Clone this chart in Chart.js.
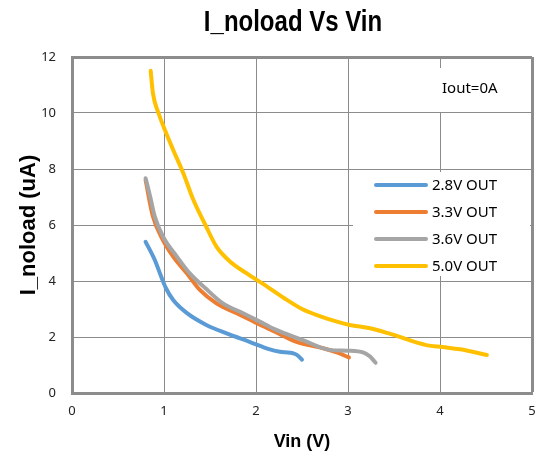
<!DOCTYPE html>
<html>
<head>
<meta charset="utf-8">
<script src="https://cdn.jsdelivr.net/npm/chart.js@4/dist/chart.umd.min.js"></script>
<style>
  html, body { margin: 0; padding: 0; background: #fff; }
  #wrap { width: 537px; height: 457px; }
</style>
</head>
<body>
<div id="wrap"><canvas id="grafico" width="537" height="457"></canvas></div>
<script>
const titulo = 'I_noload Vs Vin';
const tituloX = 'Vin (V)';
const tituloY = 'I_noload (uA)';
const nota = 'Iout=0A';

const series = ['2.8V OUT', '3.3V OUT', '3.6V OUT', '5.0V OUT'];
const colores = ['#5B9BD5', '#ED7D31', '#A5A5A5', '#FFC000'];

const vin28 = [0.80, 0.90, 0.97, 1.02, 1.10, 1.25, 1.46, 1.68, 1.93, 2.15, 2.26, 2.37, 2.44, 2.50];
const i28 = [5.40, 4.75, 4.15, 3.75, 3.32, 2.85, 2.43, 2.13, 1.83, 1.56, 1.47, 1.44, 1.37, 1.19];

const vin33 = [0.80, 0.88, 0.97, 1.10, 1.25, 1.39, 1.57, 1.79, 2.01, 2.20, 2.44, 2.73, 2.88, 3.01];
const i33 = [7.60, 6.30, 5.58, 4.87, 4.27, 3.68, 3.20, 2.85, 2.49, 2.20, 1.83, 1.60, 1.45, 1.27];

const vin36 = [0.80, 0.85, 0.90, 0.99, 1.14, 1.28, 1.45, 1.64, 1.86, 2.04, 2.20, 2.51, 2.80, 2.99, 3.17, 3.24, 3.30];
const i36 = [7.67, 7.01, 6.30, 5.58, 4.87, 4.27, 3.74, 3.20, 2.85, 2.55, 2.28, 1.89, 1.54, 1.51, 1.44, 1.30, 1.08];

const vin50 = [0.855, 0.88, 0.94, 1.01, 1.10, 1.21, 1.32, 1.45, 1.57, 1.72, 1.90, 2.12, 2.30, 2.50, 2.70, 2.88, 3.02, 3.24, 3.46, 3.85, 4.03, 4.22, 4.51];
const i50 = [11.51, 10.7, 10.0, 9.39, 8.68, 7.85, 6.89, 6.0, 5.23, 4.69, 4.27, 3.80, 3.40, 3.00, 2.74, 2.55, 2.43, 2.31, 2.11, 1.71, 1.64, 1.56, 1.36];

const xMin = 0, xMax = 5, xPaso = 1;
const yMin = 0, yMax = 12, yPaso = 2;

const puntos = (xs, ys) => xs.map((x, i) => ({ x: x, y: ys[i] }));
const datos = [puntos(vin28, i28), puntos(vin33, i33), puntos(vin36, i36), puntos(vin50, i50)];

const gris = '#8C8C8C';
const borde = (ctx, max) => (ctx.tick && ctx.tick.value === max ? 3 : 1);

// cajas blancas, leyenda, nota y titulo dibujados a mano
const extras = {
  id: 'extras',
  beforeDatasetsDraw(chart) {
    const c = chart.ctx;
    c.save();
    c.fillStyle = '#fff';
    c.fillRect(353, 172, 177, 104);
    c.fillRect(437, 68, 92, 44);
    c.restore();
  },
  afterDraw(chart) {
    const c = chart.ctx;
    c.save();
    c.fillStyle = '#000';
    c.textBaseline = 'middle';
    c.textAlign = 'center';
    c.save();
    c.translate(293, 23);
    c.scale(0.8, 1);
    c.font = 'bold 30px "Liberation Sans", Arial, sans-serif';
    c.fillText(titulo, 0, 0);
    c.restore();

    c.textAlign = 'left';
    c.font = '15px "Noto Sans", sans-serif';
    c.fillText(nota, 442, 89);

    chart.data.datasets.forEach((ds, i) => {
      const y = 185 + i * 27;
      c.strokeStyle = ds.borderColor;
      c.lineWidth = 4;
      c.lineCap = 'round';
      c.beginPath();
      c.moveTo(376, y);
      c.lineTo(426, y);
      c.stroke();
      c.fillStyle = '#000';
      c.fillText(ds.label, 432, y + 1);
    });
    c.restore();
  },
};

const crearGrafico = (canvas) => {
  const chart = new Chart(canvas, {
    type: 'scatter',
    data: {
      datasets: series.map((nombre, i) => ({
        label: nombre,
        data: datos[i],
        showLine: true,
        borderColor: colores[i],
        backgroundColor: colores[i],
        borderWidth: 4,
        borderCapStyle: 'round',
        pointRadius: 0,
        cubicInterpolationMode: 'monotone',
        order: 3 - i,
      })),
    },
    options: {
      responsive: false,
      animation: false,
      layout: { padding: { top: 57, right: 5, left: 0, bottom: 0 } },
      plugins: {
        legend: { display: false },
        title: { display: false },
        tooltip: { enabled: false },
      },
      scales: {
        x: {
          type: 'linear',
          min: xMin,
          max: xMax,
          ticks: {
            stepSize: xPaso,
            padding: 10,
            color: '#222',
            font: { family: '"Noto Sans", sans-serif', size: 13 },
          },
          grid: { color: gris, lineWidth: (ctx) => borde(ctx, xMax), drawTicks: false },
          border: { color: gris, width: 3 },
          title: {
            display: true,
            text: tituloX,
            color: '#000',
            font: { family: '"Liberation Sans", sans-serif', size: 18, weight: 'bold' },
            padding: { top: 0, bottom: 4 },
          },
          afterFit: (scale) => {
            scale.height = 64;
            scale.paddingLeft = 0;
            scale.paddingRight = 0;
          },
        },
        y: {
          type: 'linear',
          min: yMin,
          max: yMax,
          ticks: {
            stepSize: yPaso,
            padding: 16,
            color: '#222',
            font: { family: '"Noto Sans", sans-serif', size: 13 },
          },
          grid: { color: gris, lineWidth: (ctx) => borde(ctx, yMax), drawTicks: false },
          border: { color: gris, width: 3 },
          title: {
            display: true,
            text: tituloY,
            color: '#000',
            font: { family: '"Liberation Sans", sans-serif', size: 22, weight: 'bold' },
            padding: { top: 16, bottom: 0 },
          },
          afterFit: (scale) => {
            scale.width = 72;
            scale.paddingTop = 0;
            scale.paddingBottom = 0;
          },
        },
      },
    },
    plugins: [extras],
  });
  return chart;
};

crearGrafico(document.getElementById('grafico'));
</script>
</body>
</html>
